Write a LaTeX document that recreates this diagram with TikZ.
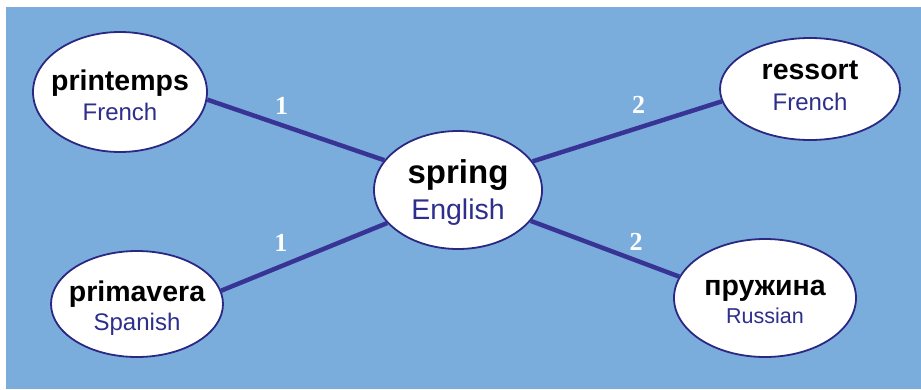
\documentclass[tikz,border=0pt]{standalone}
\usepackage{fontspec}
\setmainfont{Liberation Sans}
\newfontfamily\numfont{Liberation Serif}
\usetikzlibrary{shapes.geometric}

\definecolor{bgblue}{RGB}{123,173,220}
\definecolor{linkblue}{RGB}{56,52,150}
\definecolor{rimblue}{RGB}{42,40,130}
\definecolor{langblue}{RGB}{46,46,140}

\newcommand\wordfont{\fontsize{28.5}{30}\selectfont\bfseries}
\newcommand\langfont{\fontsize{24}{28}\selectfont\color{langblue}}
% raise of first baseline, gap between baselines, word, language
\newcommand\wordpair[4]{%
  \raisebox{#1}[0pt][0pt]{\makebox[0pt]{\wordfont #3}}%
  \raisebox{\dimexpr#1-#2\relax}[0pt][0pt]{\makebox[0pt]{\langfont #4}}}

\begin{document}
\begin{tikzpicture}[x=1pt, y=-1pt,
    word/.style = {ellipse, draw=rimblue, line width=1.8pt, fill=white, inner sep=0pt},
    link/.style = {linkblue, line width=4.5pt},
    numlbl/.style = {text=white, inner sep=0pt, font=\numfont\fontsize{26}{28}\selectfont\bfseries}]
                \useasboundingbox (0,0) rectangle (921,389);
                \fill[bgblue] (6,7) rectangle (921,389);

                \node[word, minimum width=168pt, minimum height=118pt] (spring) at (458,190)
                    {\wordpair{7pt}{36pt}{\fontsize{33}{36}\selectfont spring}{\fontsize{28.5}{32}\selectfont English}};
                \node[word, minimum width=174pt, minimum height=120pt] (printemps) at (120,92)
                    {\wordpair{2pt}{30pt}{printemps}{French}};
                \node[word, minimum width=172pt, minimum height=106pt] (primavera) at (137,304)
                    {\wordpair{3pt}{29pt}{primavera}{Spanish}};
                \node[word, minimum width=180pt, minimum height=102pt] (ressort) at (810,89)
                    {\wordpair{10pt}{31pt}{ressort}{French}};
                \node[word, minimum width=182pt, minimum height=118pt] (pruzhina) at (765,298)
                    {\wordpair{3pt}{28pt}{пружина}{\fontsize{21.5}{26}\selectfont Russian}};

                \draw[link] (printemps.-5) -- (spring.158)
                    node[numlbl, pos=0.42, above=8pt] (n1a) {1};
                \draw[link] (spring.205) -- (primavera.9)
                    node[numlbl, pos=0.64, above=13pt] (n1b) {1};
                \draw[link] (spring.21) -- (ressort.188)
                    node[numlbl, pos=0.56, above=12pt] (n2a) {2};
                \draw[link] (spring.-23) -- (pruzhina.166)
                    node[numlbl, pos=0.71, above=8pt] (n2b) {2};
\end{tikzpicture}
\end{document}
